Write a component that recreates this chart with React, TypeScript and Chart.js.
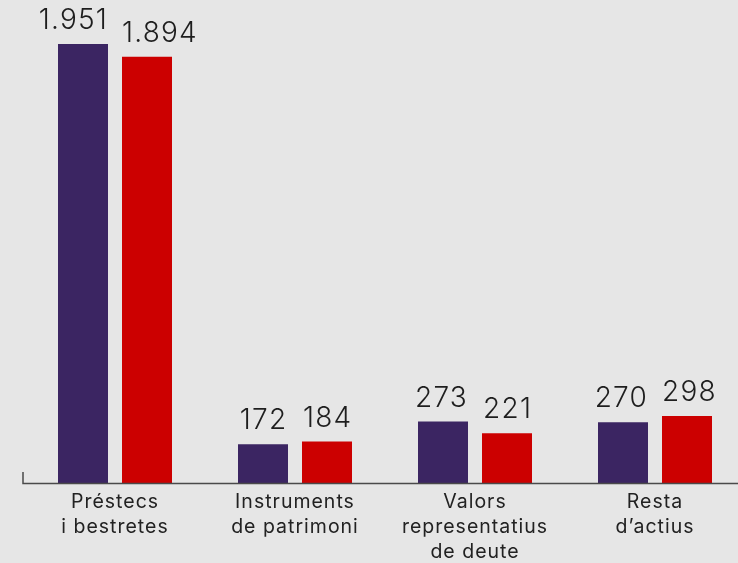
import React, { useEffect, useRef } from "react";
import { Chart, registerables } from "chart.js";

Chart.register(...registerables);

const categories: string[][] = [
  ["Préstecs", "i bestretes"],
  ["Instruments", "de patrimoni"],
  ["Valors", "representatius", "de deute"],
  ["Resta", "d’actius"],
];
const seriesA: number[] = [1951, 172, 273, 270];
const seriesB: number[] = [1894, 184, 221, 298];
const yMax = 2000;

const PURPLE = "#3b2562";
const RED = "#cc0000";
const BG = "#e6e6e6";
const TEXT = "#1e1e1e";
const AXIS = "#4a4a4a";

function fmt(n: number): string {
  return String(n).replace(/\B(?=(\d{3})+(?!\d))/g, ".");
}

const spacing = {
  id: "spacing",
  beforeDraw(chart: any) {
    (chart.ctx as any).letterSpacing = "1px";
  },
};

const valueLabels = {
  id: "valueLabels",
  afterDatasetsDraw(chart: any) {
    const ctx = chart.ctx;
    const area = chart.chartArea;
    ctx.save();
    ctx.strokeStyle = AXIS;
    ctx.lineWidth = 1.5;
    ctx.beginPath();
    ctx.moveTo(area.left - 2, area.bottom + 0.5);
    ctx.lineTo(chart.width, area.bottom + 0.5);
    ctx.moveTo(area.left - 2, area.bottom + 1.2);
    ctx.lineTo(area.left - 2, area.bottom - 11);
    ctx.stroke();

    (ctx as any).letterSpacing = "1.2px";
    ctx.font = "300 28px Inter, 'Open Sans', sans-serif";
    ctx.fillStyle = TEXT;
    ctx.textBaseline = "alphabetic";
    chart.data.datasets.forEach((ds: any, di: number) => {
      const meta = chart.getDatasetMeta(di);
      meta.data.forEach((bar: any, i: number) => {
        const txt = fmt(ds.data[i]);
        const w = ctx.measureText(txt).width;
        const half = bar.width / 2;
        let x = bar.x;
        if (w > bar.width) {
          if (di === 0) {
            ctx.textAlign = "right";
            x = bar.x + half;
          } else {
            ctx.textAlign = "left";
            x = bar.x - half;
          }
        } else {
          ctx.textAlign = "center";
          x = bar.x + 0.6;
        }
        ctx.fillText(txt, x, bar.y - 15);
      });
    });
    ctx.restore();
  },
};

export default function App() {
  const ref = useRef<HTMLCanvasElement | null>(null);
  useEffect(() => {
    document.body.style.margin = "0";
    document.body.style.background = BG;
    const canvas = ref.current!;
    const chart = new Chart(canvas, {
      type: "bar",
      data: {
        labels: categories,
        datasets: [
          { label: "A", data: seriesA, backgroundColor: PURPLE },
          { label: "B", data: seriesB, backgroundColor: RED },
        ],
      },
      options: {
        animation: false,
        responsive: false,
        devicePixelRatio: 1,
        layout: { padding: { left: 25, right: 15, top: 33, bottom: 3 } },
        plugins: { legend: { display: false }, tooltip: { enabled: false } },
        datasets: {
          bar: { categoryPercentage: 128 / 180, barPercentage: 50 / 64 },
        },
        scales: {
          x: {
            grid: { display: false, drawTicks: false, tickLength: 0 },
            border: { display: false },
            ticks: {
              color: "#222222",
              padding: 7,
              maxRotation: 0,
              autoSkip: false,
              font: { family: "Inter, 'Open Sans', sans-serif", size: 19.5, lineHeight: "25px" },
            },
          },
          y: {
            display: false,
            min: 0,
            max: yMax,
          },
        },
      },
      plugins: [spacing, valueLabels],
    });
    return () => chart.destroy();
  }, []);
  return (
    <div style={{ width: 738, height: 563, overflow: "hidden", background: BG, position: "relative" }}>
      <canvas ref={ref} width={760} height={575} style={{ display: "block", width: 760, height: 575 }} />
    </div>
  );
}
